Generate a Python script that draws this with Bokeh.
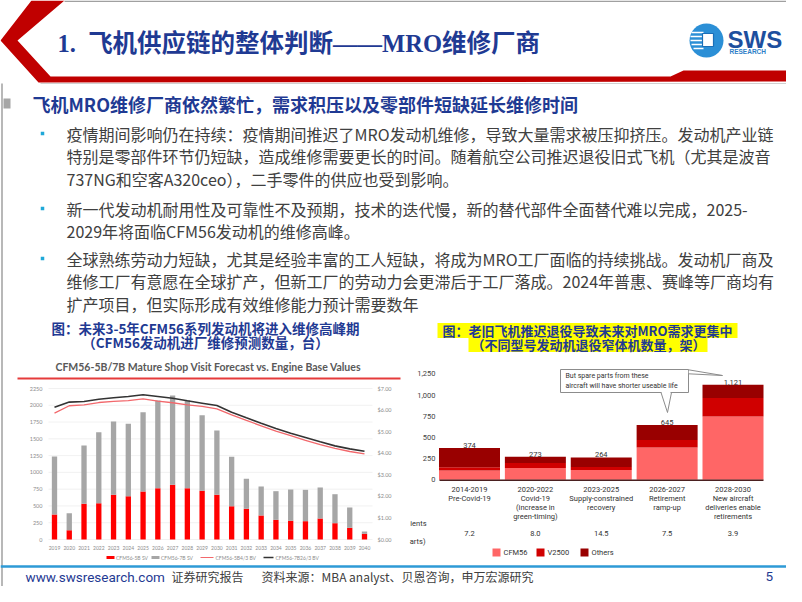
import numpy as np
from bokeh.plotting import figure
from bokeh.models import Range1d
from bokeh.core.properties import value
from bokeh.embed import file_html
from bokeh.resources import INLINE

# ---------------- data ----------------
title_text = "1.\u2002飞机供应链的整体判断——MRO维修厂商"
subhead_text = "飞机MRO维修厂商依然繁忙，需求积压以及零部件短缺延长维修时间"
bullets = [
    ["疫情期间影响仍在持续：疫情期间推迟了MRO发动机维修，导致大量需求被压抑挤压。发动机产业链",
     "特别是零部件环节仍短缺，造成维修需要更长的时间。随着航空公司推迟退役旧式飞机（尤其是波音",
     "737NG和空客A320ceo），二手零件的供应也受到影响。"],
    ["新一代发动机耐用性及可靠性不及预期，技术的迭代慢，新的替代部件全面替代难以完成，2025-",
     "2029年将面临CFM56发动机的维修高峰。"],
    ["全球熟练劳动力短缺，尤其是经验丰富的工人短缺，将成为MRO工厂面临的持续挑战。发动机厂商及",
     "维修工厂有意愿在全球扩产，但新工厂的劳动力会更滞后于工厂落成。2024年普惠、赛峰等厂商均有",
     "扩产项目，但实际形成有效维修能力预计需要数年"],
]
left_caption = ["图：未来3-5年CFM56系列发动机将进入维修高峰期", "（CFM56发动机进厂维修预测数量，台）"]
right_caption = ["图：老旧飞机推迟退役导致未来对MRO需求更集中", "（不同型号发动机退役窄体机数量，架）"]
footer_url = "www.swsresearch.com"
footer_report = "证券研究报告"
footer_source = "资料来源：MBA analyst、贝恩咨询，申万宏源研究"
page_number = "5"

# left chart
left_title = "CFM56-5B/7B Mature Shop Visit Forecast vs. Engine Base Values"
years = list(range(2019, 2041))
cfm56_5b_sv = [372, 139, 532, 541, 666, 645, 715, 764, 815, 764, 726, 666,
               496, 457, 358, 293, 279, 273, 313, 243, 174, 85]
cfm56_7b_sv = [865, 253, 869, 1058, 1092, 1079, 1182, 1307, 1331, 1307, 1126, 958,
               736, 447, 432, 427, 466, 467, 462, 432, 303, 34]
cfm56_5b_bv = [5.86, 6.20, 6.24, 6.35, 6.40, 6.44, 6.52, 6.41, 6.34, 6.24, 6.17, 6.06,
               5.78, 5.52, 5.27, 5.02, 4.81, 4.60, 4.40, 4.22, 4.08, 3.97]
cfm56_7b_bv = [6.13, 6.37, 6.40, 6.50, 6.57, 6.63, 6.71, 6.63, 6.55, 6.43, 6.32, 6.21,
               5.90, 5.64, 5.39, 5.15, 4.93, 4.73, 4.53, 4.34, 4.20, 4.09]
left_ticks = [0, 250, 500, 750, 1000, 1250, 1500, 1750, 2000, 2250]
left_tick_labels = ["0", "250", "500", "750", "1000", "1250", "1500", "1750", "2000", "2250"]
value_ticks = [0, 1, 2, 3, 4, 5, 6, 7]
value_tick_labels = ["$0.00", "$1.00", "$2.00", "$3.00", "$4.00", "$5.00", "$6.00", "$7.00"]
left_legend = ["CFM56-5B SV", "CFM56-7B SV", "CFM56-5B4/3 BV", "CFM56-7B26/3 BV"]

# right chart
periods = ["2014-2019", "2020-2022", "2023-2025", "2026-2027", "2028-2030"]
period_desc = [["Pre-Covid-19"],
               ["Covid-19", "(increase in", "green-timing)"],
               ["Supply-constrained", "recovery"],
               ["Retirement", "ramp-up"],
               ["New aircraft", "deliveries enable", "retirements"]]
ret_cfm56 = [111, 139, 115, 381, 746]
ret_v2500 = [36, 59, 36, 87, 218]
ret_others = [227, 75, 113, 177, 157]
ratio_row = ["7.2", "8.0", "14.5", "7.5", "3.9"]
ratio_row_labels = ["ients", "arts)"]
ret_ticks = [0, 250, 500, 750, 1000, 1250]
ret_tick_labels = ["0", "250", "500", "750", "1,000", "1,250"]
ret_legend = ["CFM56", "V2500", "Others"]
callout_lines = ["But spare parts from these", "aircraft will have shorter useable life"]

# ---------------- styles ----------------
CJK = value("Noto Sans CJK SC")
NAVY = "#1F3A93"
BODY = "#404040"
RED_BAR = "#FF0000"
GRAY_BAR = "#A6A6A6"
C_CFM = "#FF6666"
C_V25 = "#D00000"
C_OTH = "#990000"

W, H = 786, 586


def lin_range(v0, s0, v1, s1, s_start, s_end):
    k = (v1 - v0) / (s1 - s0)
    return Range1d(start=v0 + (s_start - s0) * k, end=v0 + (s_end - s0) * k)


p = figure(width=W, height=H, x_range=Range1d(0, W), y_range=Range1d(H, 0),
           output_backend="svg", toolbar_location=None, x_axis_type=None, y_axis_type=None,
           min_border=0, outline_line_color=None, background_fill_color="white",
           border_fill_color="white")

p.extra_x_ranges = {
    "lx": lin_range(2019, 54, 2040, 364, 0, W),
    "rx": lin_range(0, 469, 4, 732.5, 0, W),
}
p.extra_y_ranges = {
    "ly": lin_range(0, 539, 2250, 388, H, 0),
    "ld": lin_range(0, 539, 7, 388, H, 0),
    "ry": lin_range(0, 479.3, 1250, 373.3, H, 0),
}

# ---------------- frame & header ----------------
p.segment(x0=[64, 1.5], y0=[0.8, 83], x1=[786, 1.5], y1=[0.8, 586],
          line_color="#A0A0A0", line_width=1.5)
p.patch([31, 64, 17, 50, 670, 683, 802, 802, 38, 0],
        [0, 0, 40, 76, 76, 70, 70, 81, 82, 40],
        fill_color="#C00000", line_color=None)
p.segment(x0=[40], y0=[83], x1=[802], y1=[83], line_color="#D0D0D0", line_width=1)

p.text(x=[57], y=[43], text=[title_text], text_font=value("Liberation Serif, Noto Sans CJK SC"),
       text_font_size="24.5px", text_font_style="bold", text_color=NAVY, text_baseline="middle")

# logo
p.circle(x=[706], y=[40], radius=17, fill_color="#2B8FD6", line_color=None)
p.segment(x0=[691, 690, 690, 691, 693], y0=[32, 36, 40, 44, 48],
          x1=[703, 703, 703, 703, 703], y1=[32, 36, 40, 44, 48],
          line_color="white", line_width=1.5)
p.quad(left=[702], right=[713], top=[33], bottom=[46], fill_color="white",
       line_color="#1B6FB8", line_width=1.2)
p.text(x=[727], y=[39], text=["SWS"], text_font=value("Liberation Sans"),
       text_font_size="24px", text_font_style="bold", text_color="#1D4F9E",
       text_baseline="middle")
p.text(x=[729], y=[51], text=["RESEARCH"], text_font=value("Liberation Sans"),
       text_font_size="6.5px", text_font_style="bold", text_color="#2F7FC8",
       text_baseline="middle")

# sub heading
p.quad(left=[3], right=[10], top=[98], bottom=[108], fill_color="#A6A6A6", line_color=None)
p.text(x=[32], y=[103], text=[subhead_text], text_font=CJK, text_font_size="18px",
       text_font_style="bold", text_color=NAVY, text_baseline="middle")

# bullets
bullet_start = [133, 208, 258]
bx, by, bt = [], [], []
for k, lines in enumerate(bullets):
    for j, line in enumerate(lines):
        bx.append(66)
        by.append(bullet_start[k] + 22.5 * j)
        bt.append(line)
p.scatter(x=[42] * len(bullet_start), y=bullet_start, marker="square", size=3.5,
          fill_color="#1FA8D8", line_color=None)
p.text(x=bx, y=by, text=bt, text_font=CJK, text_font_size="16px", text_color=BODY,
       text_baseline="middle")

# captions
p.text(x=[205, 205], y=[327, 341], text=left_caption, text_font=CJK, text_font_size="13.5px",
       text_font_style="bold", text_color=NAVY, text_align="center", text_baseline="middle")
p.quad(left=[437, 468], right=[737, 707], top=[322.5, 337.5], bottom=[337.5, 351.5],
       fill_color="#FFFF00", line_color=None)
p.text(x=[587, 588], y=[330, 344], text=right_caption, text_font=CJK, text_font_size="13px",
       text_font_style="bold", text_color=NAVY, text_align="center", text_baseline="middle")

# ---------------- left chart ----------------
p.text(x=[208], y=[366], text=[left_title], text_font=value("Lato"), text_font_size="10.5px",
       text_font_style="bold", text_color="#595959", text_align="center", text_baseline="middle")
p.segment(x0=[17], y0=[378], x1=[400], y1=[378], line_color="#E53B3B", line_width=2)

p.segment(x0=[48] * len(left_ticks), x1=[372] * len(left_ticks), y0=left_ticks, y1=left_ticks,
          y_range_name="ly", line_color="#EDEDED", line_width=0.8)

tot = (np.array(cfm56_5b_sv) + np.array(cfm56_7b_sv)).tolist()
p.vbar(x=years, width=0.36, bottom=0, top=cfm56_5b_sv, x_range_name="lx", y_range_name="ly",
       fill_color=RED_BAR, line_color=None)
p.vbar(x=years, width=0.36, bottom=cfm56_5b_sv, top=tot, x_range_name="lx", y_range_name="ly",
       fill_color=GRAY_BAR, line_color=None)
p.line(x=years, y=cfm56_5b_bv, x_range_name="lx", y_range_name="ld",
       line_color="#F2686C", line_width=1.3)
p.line(x=years, y=cfm56_7b_bv, x_range_name="lx", y_range_name="ld",
       line_color="#333333", line_width=1.6)

p.text(x=[42] * len(left_ticks), y=left_ticks, text=left_tick_labels, y_range_name="ly",
       text_font=value("Lato"), text_font_size="5.5px", text_color="#8C8C8C",
       text_align="right", text_baseline="middle")
p.text(x=[377] * len(value_ticks), y=value_ticks, text=value_tick_labels, y_range_name="ld",
       text_font=value("Lato"), text_font_size="5.5px", text_color="#8C8C8C",
       text_align="left", text_baseline="middle")
p.text(x=years, y=[547] * len(years), text=[str(y) for y in years], x_range_name="lx",
       text_font=value("Lato"), text_font_size="5px", text_color="#8C8C8C",
       text_align="center", text_baseline="middle")

# left legend
p.quad(left=[106, 151], right=[114, 159], top=[555.5, 555.5], bottom=[558.5, 558.5],
       fill_color=[RED_BAR, GRAY_BAR], line_color=None)
p.segment(x0=[200, 263], x1=[213, 273], y0=[557, 557], y1=[557, 557],
          line_color=["#F2686C", "#333333"], line_width=[1.2, 1.5])
p.text(x=[115.5, 160.5, 215, 275], y=[557] * 4, text=left_legend, text_font=value("Lato"),
       text_font_size="5px", text_color="#8C8C8C", text_baseline="middle")

# ---------------- right chart ----------------
idx = list(range(len(periods)))
b1 = np.array(ret_cfm56)
b2 = b1 + np.array(ret_v2500)
b3 = b2 + np.array(ret_others)
p.vbar(x=idx, width=0.926, bottom=0, top=b1.tolist(), x_range_name="rx", y_range_name="ry",
       fill_color=C_CFM, line_color=None)
p.vbar(x=idx, width=0.926, bottom=b1.tolist(), top=b2.tolist(), x_range_name="rx",
       y_range_name="ry", fill_color=C_V25, line_color=None)
p.vbar(x=idx, width=0.926, bottom=b2.tolist(), top=b3.tolist(), x_range_name="rx",
       y_range_name="ry", fill_color=C_OTH, line_color=None)
p.segment(x0=[439], x1=[763], y0=[479.8], y1=[479.8], line_color="#4A2020", line_width=1.5)

RF = value("Roboto")
p.text(x=[435] * len(ret_ticks), y=ret_ticks, text=ret_tick_labels, y_range_name="ry",
       text_font=RF, text_font_size="7.5px", text_color="#444444",
       text_align="right", text_baseline="middle")
p.text(x=idx, y=b3.tolist(), text=[f"{int(v):,}" for v in b3], x_range_name="rx",
       y_range_name="ry", text_font=RF, text_font_size="7.5px", text_color="#333333",
       text_align="center", text_baseline="bottom")

cx, cy, ct = [], [], []
for i, (per, desc) in enumerate(zip(periods, period_desc)):
    for j, line in enumerate([per] + desc):
        cx.append(i)
        cy.append(489 + 9 * j)
        ct.append(line)
p.text(x=cx, y=cy, text=ct, x_range_name="rx", text_font=RF, text_font_size="7.5px",
       text_color="#333333", text_align="center", text_baseline="middle")
p.text(x=idx, y=[533] * len(idx), text=ratio_row, x_range_name="rx", text_font=RF,
       text_font_size="7.5px", text_color="#333333", text_align="center", text_baseline="middle")
p.text(x=[426, 425], y=[523, 541], text=ratio_row_labels, text_font=RF, text_font_size="7.5px",
       text_color="#333333", text_align="right", text_baseline="middle")

# right legend
p.quad(left=[492, 536, 580], right=[500, 544, 588], top=[548, 548, 548],
       bottom=[556, 556, 556], fill_color=[C_CFM, C_V25, C_OTH], line_color=None)
p.text(x=[503, 547, 591], y=[552] * 3, text=ret_legend, text_font=RF, text_font_size="7.5px",
       text_color="#333333", text_baseline="middle")

# callout
p.patch([660, 671, 667], [391, 391, 412], fill_color="white", line_color=None)
p.patch([687, 687, 722], [369.5, 373.5, 375], fill_color="white", line_color=None)
p.quad(left=[560], right=[688], top=[369], bottom=[392], fill_color="white",
       line_color="#8C8C8C", line_width=1)
p.segment(x0=[661, 689], x1=[670, 689], y0=[392, 370], y1=[392, 373], line_color="white",
          line_width=1.5)
p.segment(x0=[660.5, 671, 688, 688], y0=[392, 392, 369.3, 373.3],
          x1=[667, 667, 722, 722], y1=[412, 412, 375, 375], line_color="#8C8C8C", line_width=1)
p.text(x=[565, 565], y=[375, 385], text=callout_lines, text_font=RF, text_font_size="7px",
       text_color="#333333", text_baseline="middle")

# ---------------- footer ----------------
p.segment(x0=[0], x1=[802], y0=[566], y1=[566], line_color="#2E9AD6", line_width=2.5)
p.text(x=[25], y=[576], text=[footer_url], text_font=RF, text_font_size="13.5px",
       text_color=NAVY, text_baseline="middle")
p.text(x=[171, 261], y=[576, 576], text=[footer_report, footer_source], text_font=CJK,
       text_font_size="12px", text_color=BODY, text_baseline="middle")
p.text(x=[765], y=[576], text=[page_number], text_font=RF, text_font_size="13.5px",
       text_color=NAVY, text_baseline="middle")

open("out.html", "w").write(file_html(p, INLINE))
